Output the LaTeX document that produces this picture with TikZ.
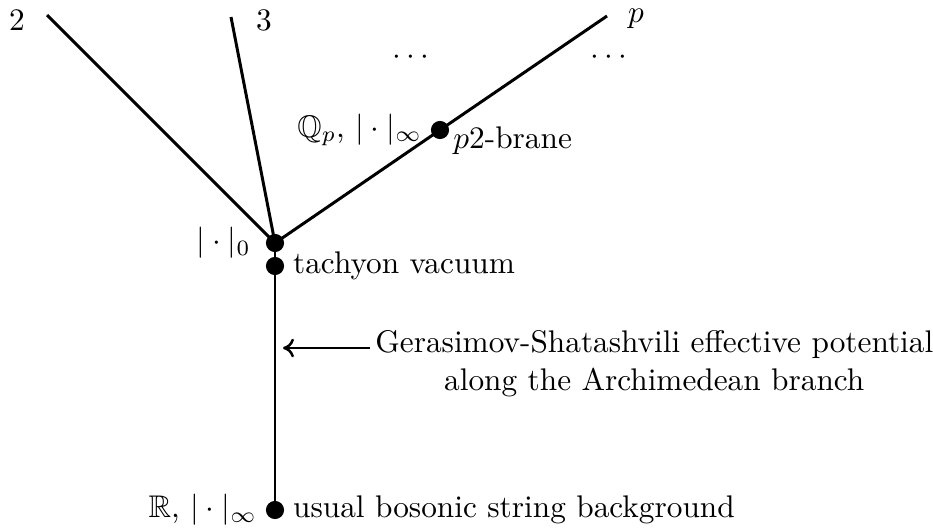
\documentclass[tikz,border=0pt]{standalone}
\usepackage{amssymb}
\usetikzlibrary{arrows.meta}
\begin{document}
\begin{tikzpicture}[x=0.3195pt,y=-0.3195pt,
  branch/.style={line width=0.95pt},
  bigdot/.style={circle,fill=black,inner sep=0pt,minimum size=5.8pt},
  lbl/.style={inner sep=1.5pt}]
\useasboundingbox (0,0) rectangle (933,527);
% nodes
\node[bigdot] (root) at (275,243) {};
\node[bigdot] (tach) at (275,266) {};
\node[bigdot] (qp) at (440,130) {};
\node[bigdot] (real) at (275,510) {};
\coordinate (e2) at (47,15);
\coordinate (e3) at (231,17);
\coordinate (ep) at (607,16);
\coordinate (arrtail) at (370,348);
\coordinate (arrhead) at (283,348);
% branches
\draw[branch] (root.center) -- (e2);
\draw[branch] (root.center) -- (e3);
\draw[branch] (root.center) -- (qp.center) -- (ep);
\draw[branch] (root.center) -- (real.center);
% labels
\node[lbl] (l2) at (17,20) {$2$};
\node[lbl] (l3) at (264,20) {$3$};
\node[lbl] (lp) at (636,19) {$p$};
\node[lbl] (d1) at (411,58) {$\cdots$};
\node[lbl] (d2) at (609,58) {$\cdots$};
\node[lbl,anchor=east] (lqp) at ([xshift=-1pt]qp.west) {$\mathbb{Q}_p$, $|\cdot|_\infty$};
\node[lbl,anchor=west] (lbrane) at ([xshift=-0.5pt,yshift=-3.3pt]qp.east) {$p$2-brane};
\node[lbl,anchor=east] (l0) at ([xshift=-3pt]root.west) {$|\cdot|_0$};
\node[lbl,anchor=west] (ltach) at ([xshift=1pt]tach.east) {tachyon vacuum};
\node[lbl,anchor=east] (lreal) at ([xshift=-1pt]real.west) {$\mathbb{R}$, $|\cdot|_\infty$};
\node[lbl,anchor=west] (lusual) at ([xshift=1pt]real.east) {usual bosonic string background};
\node[inner sep=0pt,anchor=west,align=center] (lgs) at ([xshift=1.5pt,yshift=-5pt]arrtail) {Gerasimov-Shatashvili effective potential\\along the Archimedean branch};
\draw[line width=0.8pt,-{To[length=3.5pt,width=6pt]}] (arrtail) -- (arrhead);
\end{tikzpicture}
\end{document}
